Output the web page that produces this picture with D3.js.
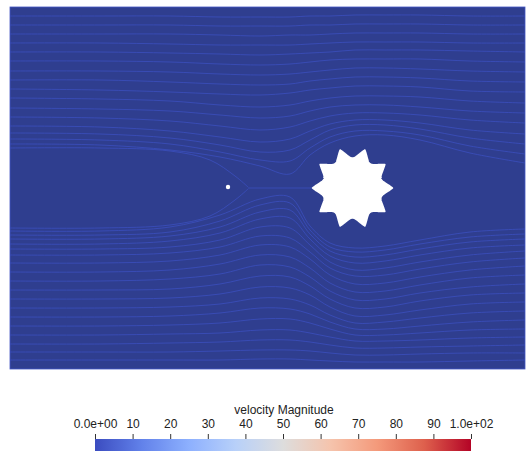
<!DOCTYPE html>
<html>
<head>
<meta charset="utf-8">
<script src="https://cdn.jsdelivr.net/npm/d3@7"></script>
<style>
    body { margin: 0; background: #fff; }
    svg text { font-family: "Liberation Sans", Arial, sans-serif; }
</style>
</head>
<body>
<svg id="chart" width="526" height="453"></svg>
<script>
// channel size (mm)
var domainX = [0, 515];
var domainY = [0, 362];

// x stations where each streamline was sampled (mm)
var xKnots = [0, 90, 160, 210, 250, 280, 300, 320, 345, 375, 410, 460, 515];

// streamlines above the obstacle: y (mm) at every station
var streamlinesTop = [
    [353, 353, 353, 352, 352, 352, 353, 353, 354, 354, 354, 353, 353],
    [344, 344, 344, 343, 343, 343, 344, 344, 345, 345, 345, 344, 344],
    [335, 335, 335, 334, 333, 334, 334, 335, 336, 336, 336, 335, 335],
    [326, 326, 325, 324, 324, 324, 325, 326, 327, 327, 327, 326, 326],
    [317, 317, 316, 315, 314, 315, 316, 317, 319, 319, 319, 318, 317],
    [308, 308, 307, 305, 304, 305, 307, 309, 310, 310, 310, 308, 307],
    [298, 298, 297, 295, 294, 295, 297, 299, 301, 301, 300, 298, 297],
    [289, 289, 287, 285, 284, 285, 288, 290, 292, 292, 291, 288, 287],
    [280, 279, 277, 275, 274, 276, 279, 281, 283, 283, 282, 278, 277],
    [271, 270, 268, 264, 262, 264, 268, 271, 273, 273, 272, 268, 266],
    [261, 260, 258, 254, 251, 253, 258, 262, 264, 264, 262, 258, 256],
    [252, 251, 248, 243, 239, 242, 248, 253, 256, 256, 254, 249, 246],
    [243, 242, 238, 232, 227, 230, 238, 245, 249, 249, 246, 239, 235],
    [236, 235, 231, 224, 217, 219, 229, 239, 244, 244, 240, 231, 225],
    [230, 229, 225, 217, 209, 208, 221, 232, 238, 238, 234, 223, 215],
    [225, 224, 219, 212, 203, 195, 214, 226, 233, 234, 229, 216, 206]
];

// streamlines below the obstacle
var streamlinesBottom = [
    [138, 138, 142, 154, 170, 172, 143, 126, 121, 123, 129, 137, 140],
    [134, 134, 137, 148, 164, 166, 139, 122, 117, 119, 125, 132, 135],
    [130, 130, 133, 142, 157, 159, 135, 118, 112, 114, 120, 127, 130],
    [125, 125, 128, 136, 150, 151, 130, 113, 106, 108, 114, 121, 124],
    [120, 120, 122, 129, 142, 141, 124, 107, 99, 101, 107, 114, 118],
    [114, 114, 116, 122, 133, 131, 117, 101, 93, 94, 100, 107, 111],
    [106, 106, 108, 114, 124, 122, 110, 94, 85, 86, 92, 99, 103],
    [97, 97, 99, 105, 114, 112, 101, 86, 77, 78, 84, 91, 94],
    [88, 88, 90, 95, 104, 102, 92, 78, 69, 70, 76, 82, 85],
    [79, 79, 80, 85, 93, 92, 83, 70, 61, 62, 68, 74, 76],
    [70, 70, 71, 75, 82, 81, 74, 62, 53, 54, 59, 65, 67],
    [61, 61, 62, 65, 71, 70, 64, 54, 46, 47, 51, 56, 58],
    [52, 52, 53, 56, 61, 60, 55, 47, 40, 40, 43, 47, 49],
    [43, 43, 44, 46, 50, 50, 46, 40, 34, 34, 36, 39, 40],
    [34, 34, 35, 36, 39, 39, 36, 32, 28, 28, 29, 31, 32],
    [25, 25, 26, 27, 29, 29, 27, 24, 21, 21, 22, 23, 24],
    [17, 17, 17, 18, 19, 19, 18, 16, 14, 14, 15, 16, 16],
    [9, 9, 9, 9, 10, 10, 9, 8, 7, 7, 7, 8, 9]
];

// lines that run into the stagnation point on the axis
var stagnationX = [0, 90, 160, 200, 225, 238];
var stagnationTop = [221, 221, 218, 209, 193, 182];
var stagnationBottom = [141, 141, 144, 153, 169, 180];
var centerlineX = [238, 302];
var centerlineY = [181, 181];

var probePoint = [218, 182];

// star shaped obstacle (mm)
var obstacleCenter = [342.5, 181];
var obstacleOuter = 40;
var obstacleInner = 30;
var obstacleLobes = 10;

// colour bar
var colorbarTitle = "velocity Magnitude";
var colorbarTicks = [0, 10, 20, 30, 40, 50, 60, 70, 80, 90, 100];
var colorbarLabels = ["0.0e+00", "10", "20", "30", "40", "50", "60", "70", "80", "90", "1.0e+02"];
var coolWarmPos = [0, 12.5, 25, 37.5, 50, 62.5, 75, 87.5, 100];
var coolWarmColors = ["rgb(59,76,192)", "rgb(98,130,234)", "rgb(141,176,254)", "rgb(184,208,249)",
    "rgb(221,221,221)", "rgb(245,196,173)", "rgb(244,154,123)", "rgb(222,96,77)", "rgb(180,4,38)"];

var svg = d3.select("#chart");

var x = d3.scaleLinear().domain(domainX).range([10, 525]);
var y = d3.scaleLinear().domain(domainY).range([369, 7]);

svg.append("rect")
    .attr("x", x(domainX[0]))
    .attr("y", y(domainY[1]))
    .attr("width", x(domainX[1]) - x(domainX[0]))
    .attr("height", y(domainY[0]) - y(domainY[1]))
    .attr("fill", "#2f3e8f")
    .attr("stroke", "#4356c4")
    .attr("stroke-width", 0.8);

var line = d3.line()
    .x(function(d) { return x(d[0]); })
    .y(function(d) { return y(d[1]); })
    .curve(d3.curveCatmullRom.alpha(0.5));

function toPoints(xs, ys) {
    return xs.map(function(v, i) { return [v, ys[i]]; });
}

var allLines = streamlinesTop.concat(streamlinesBottom).map(function(ys) {
    return toPoints(xKnots, ys);
});
allLines.push(toPoints(stagnationX, stagnationTop));
allLines.push(toPoints(stagnationX, stagnationBottom));
allLines.push(toPoints(centerlineX, centerlineY));

svg.append("g").selectAll(".streamline")
    .data(allLines)
    .enter().append("path")
    .attr("class", "streamline")
    .attr("d", line)
    .attr("fill", "none")
    .attr("stroke", "#3d52c6")
    .attr("stroke-opacity", 0.75)
    .attr("stroke-width", 0.9);

// obstacle outline: triangular tips, rounded valleys
var pxPerMm = x(1) - x(0);
var starPts = d3.range(0, 720).map(function(i) {
    var a = i / 720 * 2 * Math.PI;
    var s = Math.abs(Math.sin(obstacleLobes / 2 * (a - Math.PI / obstacleLobes)));
    return [a, (obstacleInner + (obstacleOuter - obstacleInner) * (1 - s)) * pxPerMm];
});

svg.append("path")
    .attr("d", d3.lineRadial().curve(d3.curveLinearClosed)(starPts))
    .attr("transform", "translate(" + x(obstacleCenter[0]) + "," + y(obstacleCenter[1]) + ")")
    .attr("fill", "#fff")
    .attr("stroke", "#fff")
    .attr("stroke-width", 1.5)
    .attr("stroke-linejoin", "round");

svg.append("circle")
    .attr("cx", x(probePoint[0]))
    .attr("cy", y(probePoint[1]))
    .attr("r", 2.2)
    .attr("fill", "#fff");

// colour bar
var cb = d3.scaleLinear().domain([0, 100]).range([95, 471]);
var cmap = d3.scaleLinear().domain(coolWarmPos).range(coolWarmColors);

var grad = svg.append("defs").append("linearGradient")
    .attr("id", "coolwarm")
    .attr("x1", "0%").attr("x2", "100%").attr("y1", "0%").attr("y2", "0%");

grad.selectAll("stop")
    .data(d3.range(0, 101, 2.5))
    .enter().append("stop")
    .attr("offset", function(d) { return d + "%"; })
    .attr("stop-color", function(d) { return cmap(d); });

svg.append("rect")
    .attr("x", cb(0))
    .attr("y", 439)
    .attr("width", cb(100) - cb(0))
    .attr("height", 12)
    .attr("fill", "url(#coolwarm)");

var axis = svg.append("g")
    .attr("transform", "translate(0,439)")
    .call(d3.axisTop(cb)
        .tickValues(colorbarTicks)
        .tickSize(5)
        .tickPadding(6)
        .tickFormat(function(d, i) { return colorbarLabels[i]; }));

axis.select(".domain").remove();
axis.selectAll("line").attr("stroke", "#333");
axis.selectAll("text")
    .attr("fill", "#222")
    .style("font-size", "12px")
    .style("font-family", "'Liberation Sans', Arial, sans-serif");

svg.append("text")
    .attr("x", 284)
    .attr("y", 414)
    .attr("text-anchor", "middle")
    .attr("fill", "#222")
    .style("font-size", "12px")
    .text(colorbarTitle);
</script>
</body>
</html>
